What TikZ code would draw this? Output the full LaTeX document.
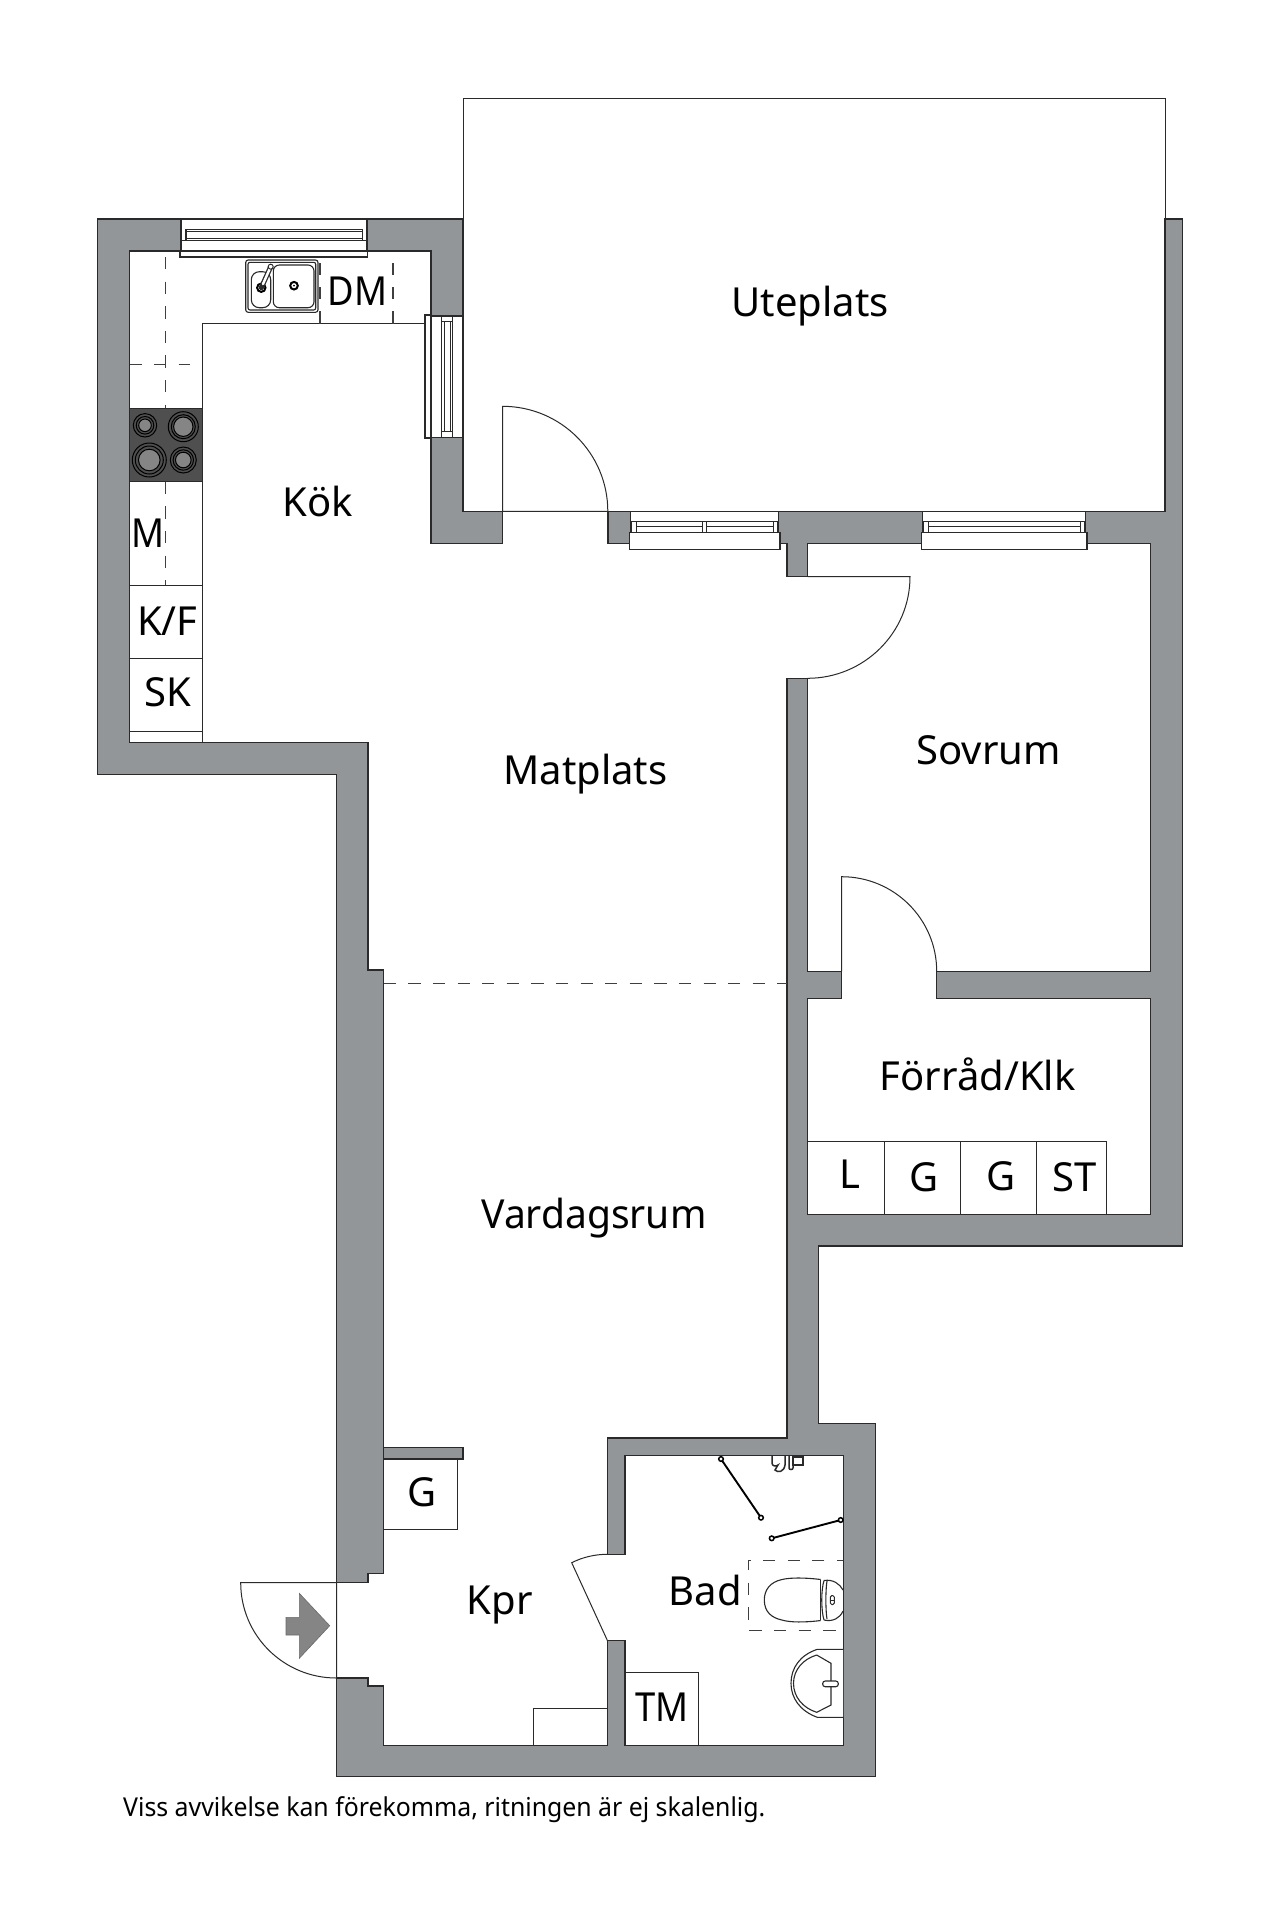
\documentclass[tikz,border=0pt]{standalone}
\usepackage{fontspec}
\setmainfont{Noto Sans}
\newfontfamily\notefont[FakeStretch=0.955]{Noto Sans}
\definecolor{wallgray}{HTML}{939698}
\definecolor{ink}{HTML}{2A2A2A}
\definecolor{hob}{HTML}{4F4F4F}
\definecolor{disc}{HTML}{858585}
\tikzset{
  wall/.style={fill=wallgray,draw=ink,line width=1.5pt,line join=miter},
  thin line/.style={draw=ink,line width=1pt},
  fixture/.style={draw=ink,line width=1.1pt,fill=white},
  windowbox/.style={draw=ink,line width=1.3pt,fill=white},
  dash line/.style={draw=ink!90,line width=1.2pt,dash pattern=on 12.3pt off 12.3pt},
  room/.style={font=\fontsize{40}{40}\selectfont,text=black,anchor=base,inner sep=0pt},
  squeezed/.style={room,xscale=0.91,transform shape},
  narrowed/.style={room,xscale=0.975,transform shape},
  note/.style={font=\notefont\fontsize{26}{26}\selectfont,text=black,anchor=base west,inner sep=0pt},
  burner/.style={draw=black,line width=1pt,fill=hob},
  screenline/.style={draw=black,line width=1.9pt},
  screenpin/.style={draw=black,line width=1.5pt,fill=white}
}
\begin{document}
\begin{tikzpicture}[x=1pt,y=-1pt]
\useasboundingbox (0,0) rectangle (1280,1920);
\fill[white] (0,0) rectangle (1280,1920);
% terrace
\draw[thin line,fill=white] (463,98) rectangle (1165,511.3);
% walls
\draw[wall] (181,219) -- (97.5,219) -- (97.5,774.3) -- (336.5,774.3) -- (336.5,1582.7) -- (368,1582.7) -- (368,1573.3) -- (383.7,1573.3) -- (383.7,970) -- (368,970) -- (368,742.3) -- (129.5,742.3) -- (129.5,251) -- (181,251) -- cycle;
\draw[wall] (367,219) -- (463,219) -- (463,316) -- (431,316) -- (431,251) -- (367,251) -- cycle;
\draw[wall] (431,437.3) -- (463,437.3) -- (463,511.3) -- (502.6,511.3) -- (502.6,543.3) -- (431,543.3) -- cycle;
\draw[wall] (608,511.3) -- (630.5,511.3) -- (630.5,543.3) -- (608,543.3) -- cycle;
\draw[wall] (778.4,511.3) -- (922.4,511.3) -- (922.4,543.3) -- (807.5,543.3) -- (807.5,576.7) -- (787,576.7) -- (787,543.3) -- (778.4,543.3) -- cycle;
\draw[wall] (1085.7,511.3) -- (1165,511.3) -- (1165,219) -- (1182.3,219) -- (1182.3,1246) -- (818.3,1246) -- (818.3,1423.7) -- (875.7,1423.7) -- (875.7,1776.7) -- (336.5,1776.7) -- (336.5,1678) -- (368,1678) -- (368,1686) -- (383.7,1686) -- (383.7,1745.3) -- (607.5,1745.3) -- (607.5,1640.7) -- (625,1640.7) -- (625,1745.3) -- (843.3,1745.3) -- (843.3,1455.7) -- (625,1455.7) -- (625,1554.3) -- (607.5,1554.3) -- (607.5,1438) -- (787,1438) -- (787,678.3) -- (807.5,678.3) -- (807.5,971.3) -- (841.7,971.3) -- (841.7,998.3) -- (807.5,998.3) -- (807.5,1214.3) -- (1150.7,1214.3) -- (1150.7,998.3) -- (936.7,998.3) -- (936.7,971.3) -- (1150.7,971.3) -- (1150.7,543.3) -- (1085.7,543.3) -- cycle;
\draw[wall] (383.7,1447.3) rectangle (463,1459);
% top kitchen window
\draw[windowbox] (181,219) rectangle (366.7,251);
\draw[windowbox] (180,240.7) -- (367.5,240.7);
\draw[windowbox] (180,251) rectangle (367.5,257);
\draw[windowbox] (186,229.3) rectangle (362.7,240.7);
\draw[thin line] (186,231.7) -- (362.7,231.7) (186,238.3) -- (362.7,238.3);
% right kitchen window
\draw[windowbox] (431,316) rectangle (463,437.3);
\draw[windowbox] (425,315) rectangle (431,438);
\draw[windowbox] (441.7,316) rectangle (452.7,437.3);
\draw[thin line] (444.3,321.7) -- (444.3,431.7) (450,321.7) -- (450,431.7) (441.7,321.7) -- (452.7,321.7) (441.7,431.7) -- (452.7,431.7);
% terrace windows
\draw[windowbox] (630.5,511.3) rectangle (778.4,543.3);
\draw[windowbox] (629.6,532.7) rectangle (780,549.3);
\draw[windowbox] (631.5,521.3) rectangle (777.5,532.7);
\draw[thin line] (636,521.3) -- (636,532.7) (702,521.3) -- (702,532.7) (706.7,521.3) -- (706.7,532.7) (773.5,521.3) -- (773.5,532.7) (636,526.7) -- (702,526.7) (706.7,526.7) -- (773.5,526.7);
\draw[windowbox] (922.4,511.3) rectangle (1085.7,543.3);
\draw[windowbox] (921.4,532.7) rectangle (1087,549.3);
\draw[windowbox] (923.4,521.3) rectangle (1084.7,532.7);
\draw[thin line] (928.5,521.3) -- (928.5,532.7) (1080,521.3) -- (1080,532.7) (928.5,526.7) -- (1080,526.7);
% doors
\draw[thin line] (502.6,511.3) -- (502.6,406.3) .. controls (560.7,406.3) and (607.8,453.3) .. (607.8,511.3) -- cycle;
\draw[thin line] (807.5,576.7) -- (910,576.7) .. controls (910,632.8) and (864,678.3) .. (807.5,678.3);
\draw[thin line] (841.7,971.3) -- (841.7,876.7) .. controls (894,876.7) and (936.7,919) .. (936.7,971.3);
\draw[thin line] (336.5,1678) -- (336.5,1582.7) -- (240.7,1582.7) .. controls (240.7,1635.3) and (283.4,1678) .. (336.5,1678);
\draw[thin line] (607.5,1640.7) -- (571.7,1562.7) .. controls (583,1557) and (595,1554.3) .. (607.5,1554.3);
\fill[disc,draw=disc!80!black,line width=.6pt] (299.3,1593.3) -- (329.7,1625.7) -- (299.3,1658.3) -- (299.3,1635) -- (286,1635) -- (286,1617.3) -- (299.3,1617.3) -- cycle;
% kitchen units
\draw[thin line] (129.5,585) -- (202.3,585) (129.5,658.7) -- (202.3,658.7) (129.5,731.7) -- (202.3,731.7);
\draw[thin line,line width=1.2pt] (202.3,742.3) -- (202.3,323.7) -- (425,323.7);
\draw[dash line] (165.7,257) -- (165.7,408.3) (165.7,481.7) -- (165.7,585);
\draw[dash line] (129.5,364.3) -- (190,364.3);
\draw[dash line] (320,323.7) -- (320,263);
\draw[dash line] (393,323.7) -- (393,263);
\draw[draw=ink,fill=hob,line width=1.2pt] (129.5,408.3) rectangle (202.3,481.7);
\foreach \cx/\cy/\ra/\rb/\rc in {145/425.3/11.7/8.8/6.3, 183.3/426.7/15/12/9.7, 149.3/460/17/14/10.8, 183.3/460/13/10.2/7.8}{
  \draw[burner] (\cx,\cy) circle (\ra);
  \draw[burner] (\cx,\cy) circle (\rb);
  \draw[draw=black,line width=1pt,fill=disc] (\cx,\cy) circle (\rc);
}
% sink
\draw[fixture,rounded corners=2.5pt] (245.7,260) rectangle (318,312.3);
\draw[fixture,rounded corners=2pt] (248,262.3) rectangle (315.7,310);
\draw[fixture,rounded corners=8pt] (251.3,271.7) rectangle (270.7,307.7);
\draw[fixture,rounded corners=6pt] (273.3,265) rectangle (314,307.7);
\draw[draw=black,line width=2pt,fill=white] (261.3,287.7) circle (4.2);
\fill[black] (261.3,287.7) circle (1);
\draw[draw=black,line width=2pt,fill=white] (294,285.7) circle (3.8);
\fill[black] (294,285.7) circle (1);
\draw[draw=ink,line width=5pt,line cap=round] (261.3,287.7) -- (270.7,266.7);
\draw[draw=white,line width=2.5pt,line cap=round] (263,284) -- (270.7,266.7);
\fill[white,draw=ink,line width=1pt] (270.7,266.7) circle (2.5);
% storage units
\draw[thin line] (807.5,1141.7) -- (1106.7,1141.7) -- (1106.7,1214.3) (884,1141.7) -- (884,1214.3) (960.3,1141.7) -- (960.3,1214.3) (1036.3,1141.7) -- (1036.3,1214.3);
% hall units
\draw[thin line] (383.7,1459) -- (457.3,1459) -- (457.3,1529.7) -- (383.7,1529.7);
\draw[thin line] (533.3,1745.3) -- (533.3,1708.7) -- (607.5,1708.7);
\draw[thin line] (625,1672.3) -- (698.3,1672.3) -- (698.3,1745.3);
% zone line
\draw[dash line] (383.7,983.5) -- (787,983.5);
% bathroom
\draw[screenline] (721,1459) -- (761,1517.7);
\draw[screenline] (771.7,1538.3) -- (840.7,1520);
\foreach \px/\py in {721/1459, 761/1517.7, 771.7/1538.3, 840.7/1520}
  \draw[screenpin] (\px,\py) circle (2.3);
\draw[fixture,line width=1.5pt] (772,1456) -- (772,1463) .. controls (772,1466) and (776,1467) .. (778,1465) -- (775,1470) .. controls (778,1473) and (784,1472) .. (785,1465) -- (785,1456);
\draw[fixture,line width=1.5pt] (789,1456) -- (789,1468) .. controls (789,1470) and (793,1470) .. (793,1468) -- (793,1456);
\draw[fixture,line width=1.5pt] (793,1457) rectangle (803,1465);
\draw[dash line,dash phase=6pt] (843,1560.3) -- (748.3,1560.3) -- (748.3,1630.7) -- (843,1630.7);
\draw[fixture] (820.7,1579.5) .. controls (805,1577.5) and (790,1577.5) .. (782,1579.5) .. controls (770,1582) and (764.3,1590) .. (764.3,1600) .. controls (764.3,1612) and (772,1618) .. (782,1620) .. controls (790,1622.5) and (805,1622.5) .. (820.7,1620.5);
\draw[fixture,fill=none] (820.7,1580) -- (820.7,1620);
\draw[fixture,fill=none] (824,1580.5) .. controls (821,1590) and (821,1610) .. (824,1620) ;
\draw[fixture,fill=none] (827,1581) .. controls (825.5,1590) and (825.5,1610) .. (827,1619);
\draw[fixture,fill=none] (824,1580.5) .. controls (833,1579) and (840,1584) .. (843,1590) (824,1620) .. controls (833,1622) and (840,1618) .. (843,1611);
\draw[fixture,line width=1pt,rounded corners=1.5pt] (830.3,1595.5) rectangle (834.3,1604.5);
\draw[fixture,fill=none,line width=.8pt] (830.3,1600) -- (834.3,1600);
\draw[fixture] (843,1649.3) -- (817.3,1649.3) .. controls (800,1655) and (791,1668) .. (791,1683.3) .. controls (791,1698) and (800,1711) .. (817.3,1717.3) -- (843,1717.3);
\draw[fixture] (816.7,1655) -- (831,1663.3) -- (831,1705) -- (816.7,1712.3) .. controls (803,1708) and (793.5,1697) .. (793.5,1683.3) .. controls (793.5,1670) and (803,1659) .. (816.7,1655);
\draw[fixture,rounded corners=2.5pt] (822.7,1681) rectangle (838.3,1686.7);
% labels
\node[room] (uteplats) at (810,316) {Uteplats};
\node[room] (kok) at (318,516) {Kök};
\node[squeezed] (dm) at (357.7,305.7) {DM};
\node[squeezed] (m) at (148,547) {M};
\node[room] (kf) at (167.3,635) {K/F};
\node[room] (sk) at (167.7,706.7) {SK};
\node[room] (matplats) at (585.5,784) {Matplats};
\node[room] (sovrum) at (988.6,764.5) {Sovrum};
\node[room] (forrad) at (977.7,1090.7) {Förråd/Klk};
\node[room] (l) at (850.3,1188.3) {L};
\node[room] (ga) at (924,1191) {G};
\node[room] (gb) at (1000.7,1190) {G};
\node[room] (st) at (1074.7,1191) {ST};
\node[narrowed] (vardagsrum) at (594,1228) {Vardagsrum};
\node[room] (gc) at (422,1506.7) {G};
\node[room] (kpr) at (499.7,1614.3) {Kpr};
\node[room] (bad) at (705.3,1605.7) {Bad};
\node[squeezed] (tm) at (662.3,1721.7) {TM};
\node[note] (footer) at (123,1816.5) {Viss avvikelse kan förekomma, ritningen är ej skalenlig.};
\end{tikzpicture}
\end{document}
